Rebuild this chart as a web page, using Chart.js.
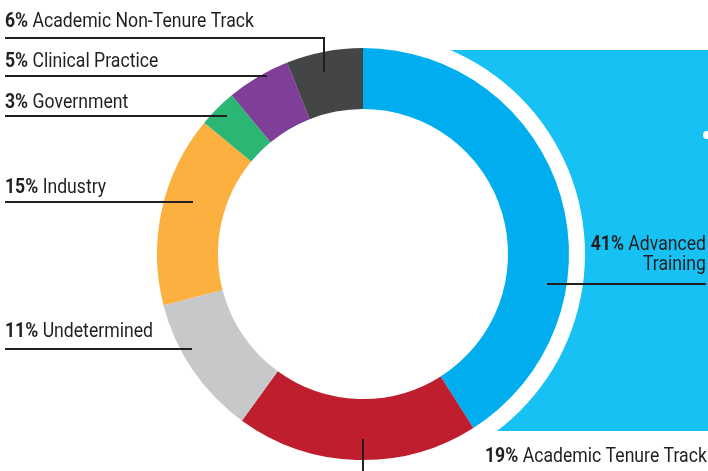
<!DOCTYPE html>
<html>
<head>
<meta charset="utf-8">
<script src="https://cdn.jsdelivr.net/npm/chart.js@4"></script>
<style>
  html, body { margin: 0; padding: 0; background: #fff; }
  canvas { display: block; }
</style>
</head>
<body>
<canvas id="chart" width="708" height="471"></canvas>
<script>
// slices run clockwise from 12 o'clock
const categories = ['Advanced Training', 'Academic Tenure Track', 'Undetermined', 'Industry', 'Government', 'Clinical Practice', 'Academic Non-Tenure Track'];
const shares = [41, 19, 11, 15, 3, 5, 6];
const colors = ['#00aeef', '#be1e2d', '#c7c8ca', '#fbb040', '#2bb673', '#7f3f98', '#444547'];

// label layout: text anchor + leader line, same order as categories
const labelSpots = [
  { x: 706, y: 250, align: 'right', wrap: 'Advanced', path: [[547, 284], [706, 284]] },
  { x: 485, y: 462, align: 'left', path: [[363, 439], [363, 471]] },
  { x: 5, y: 337, align: 'left', path: [[5, 349], [192, 349]] },
  { x: 5, y: 193, align: 'left', path: [[5, 202], [193, 202]] },
  { x: 5, y: 108, align: 'left', path: [[5, 116], [227, 116]] },
  { x: 5, y: 67, align: 'left', path: [[5, 76], [267, 76]] },
  { x: 5, y: 27, align: 'left', path: [[5, 38], [324, 38], [324, 72]] },
];

const ink = '#231f20';
const boldFont = 'bold 20px Roboto, "Liberation Sans", sans-serif';
const plainFont = '20px Roboto, "Liberation Sans", sans-serif';

// light blue panel behind the right half, with a white ring round the donut
const backdrop = {
  id: 'backdrop',
  beforeDatasetsDraw(chart) {
    const ctx = chart.ctx;
    const arc = chart.getDatasetMeta(0).data[0];
    ctx.save();
    ctx.fillStyle = '#18c1f3';
    ctx.fillRect(arc.x + 40, 50, chart.width - arc.x - 40, 381);
    ctx.fillStyle = '#fff';
    ctx.beginPath();
    ctx.arc(arc.x, arc.y, arc.outerRadius + 16, 0, Math.PI * 2);
    ctx.fill();
    ctx.beginPath();
    ctx.arc(707, 135, 4, 0, Math.PI * 2);
    ctx.fill();
    ctx.restore();
  },
};

function drawPiece(ctx, parts, x, y, align, squeeze) {
  let total = 0;
  parts.forEach((p) => {
    ctx.font = p.font;
    total += ctx.measureText(p.text).width;
  });
  let cx = align === 'right' ? x - total * squeeze : x;
  ctx.save();
  ctx.translate(cx, y);
  ctx.scale(squeeze, 1);
  let off = 0;
  parts.forEach((p) => {
    ctx.font = p.font;
    ctx.fillText(p.text, off, 0);
    off += ctx.measureText(p.text).width;
  });
  ctx.restore();
}

const callouts = {
  id: 'callouts',
  afterDatasetsDraw(chart) {
    const ctx = chart.ctx;
    ctx.save();
    // condensed look: squeeze so the longest label spans like the original
    ctx.font = boldFont;
    let w = ctx.measureText('6% ').width;
    ctx.font = plainFont;
    w += ctx.measureText('Academic Non-Tenure Track').width;
    const squeeze = 249 / w;

    ctx.strokeStyle = ink;
    ctx.lineWidth = 2;
    ctx.fillStyle = ink;
    ctx.textBaseline = 'alphabetic';
    categories.forEach((name, i) => {
      const spot = labelSpots[i];
      ctx.beginPath();
      spot.path.forEach(([px, py], k) => (k ? ctx.lineTo(px, py) : ctx.moveTo(px, py)));
      ctx.stroke();

      const pct = shares[i] + '% ';
      if (spot.wrap) {
        const rest = name.slice(spot.wrap.length + 1);
        drawPiece(ctx, [{ text: pct, font: boldFont }, { text: spot.wrap, font: plainFont }], spot.x, spot.y, spot.align, squeeze);
        drawPiece(ctx, [{ text: rest, font: plainFont }], spot.x, spot.y + 20, spot.align, squeeze);
      } else {
        drawPiece(ctx, [{ text: pct, font: boldFont }, { text: name, font: plainFont }], spot.x, spot.y, spot.align, squeeze);
      }
    });
    ctx.restore();
  },
};

new Chart(document.getElementById('chart'), {
  type: 'doughnut',
  data: {
    labels: categories,
    datasets: [
      {
        data: shares,
        backgroundColor: colors,
        borderWidth: 0,
      },
    ],
  },
  options: {
    responsive: false,
    animation: false,
    cutout: '70.4%',
    layout: {
      padding: { left: 157, right: 139, top: 48, bottom: 11 },
    },
    plugins: {
      legend: { display: false },
      tooltip: { enabled: false },
    },
  },
  plugins: [backdrop, callouts],
});
</script>
</body>
</html>
